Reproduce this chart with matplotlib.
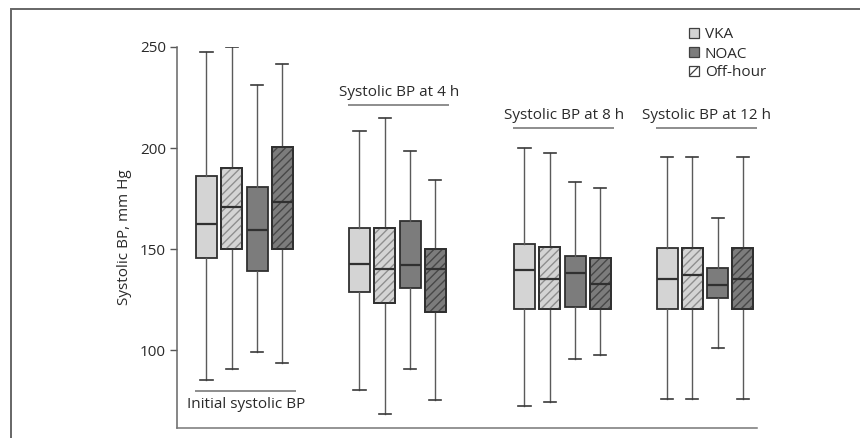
import matplotlib
matplotlib.use("Agg")
import matplotlib.pyplot as plt
from matplotlib.patches import Rectangle
from matplotlib.lines import Line2D

plt.rcParams['font.family'] = ['Open Sans', 'DejaVu Sans']
plt.rcParams['hatch.linewidth'] = 1.0

# Time points and series
groups = ["Initial systolic BP", "Systolic BP at 4 h", "Systolic BP at 8 h", "Systolic BP at 12 h"]
series = ["VKA", "VKA off-hour", "NOAC", "NOAC off-hour"]
legend_labels = ["VKA", "NOAC", "Off-hour"]

# Five-number summaries per group, one list per series: whislo, q1, median, q3, whishi
vka_stats = [
    [85, 145.5, 162.5, 186.3, 247.4],
    [80.2, 128.7, 142.4, 160.6, 208.5],
    [72.3, 120.5, 139.5, 152.5, 200.2],
    [75.7, 120.1, 135.3, 150.3, 195.4],
]
vka_off_stats = [
    [90.4, 150.0, 170.6, 190.3, 250.0],
    [68.3, 123.1, 140.3, 160.6, 215.0],
    [74.3, 120.5, 135.3, 151.2, 197.4],
    [75.7, 120.1, 137.1, 150.3, 195.4],
]
noac_stats = [
    [98.9, 139.3, 159.6, 180.5, 231.2],
    [90.4, 130.5, 142.1, 163.9, 198.4],
    [95.5, 121.1, 138.0, 146.5, 183.3],
    [101.0, 125.7, 132.4, 140.8, 165.2],
]
noac_off_stats = [
    [93.4, 150.0, 173.3, 200.3, 241.4],
    [75.2, 118.7, 140.3, 149.9, 184.3],
    [97.4, 120.1, 132.5, 145.4, 180.0],
    [75.7, 120.1, 135.3, 150.3, 195.4],
]

yticks = [100, 150, 200, 250]

# Styling
light = "#d4d4d4"
dark = "#7c7c7c"
edge = "#303030"
text_color = "#2a2a2a"
fs = 11
series_style = [
    dict(face=light, hatch=None, hcolor=None),
    dict(face=light, hatch="////", hcolor="#8e8e8e"),
    dict(face=dark, hatch=None, hcolor=None),
    dict(face=dark, hatch="////", hcolor="#474747"),
]
group_starts = [1.166, 7.213, 13.735, 19.368]
box_width = 0.83

fig = plt.figure(figsize=(8.6, 4.38), dpi=100)
ax = fig.add_axes([177 / 860, 1 - 428 / 438, 580 / 860, 381 / 438])

all_stats = [vka_stats, vka_off_stats, noac_stats, noac_off_stats]
for s_idx, stats_list in enumerate(all_stats):
    st = series_style[s_idx]
    bstats = []
    positions = []
    for g_idx, vals in enumerate(stats_list):
        lo, q1, med, q3, hi = vals
        bstats.append(dict(whislo=lo, q1=q1, med=med, q3=q3, whishi=hi, fliers=[]))
        positions.append(group_starts[g_idx] + s_idx)
    ax.bxp(bstats, positions=positions, widths=box_width, patch_artist=True,
           showfliers=False, capwidths=0.48,
           boxprops=dict(facecolor=st["face"], edgecolor=edge, linewidth=1.3),
           medianprops=dict(color=edge, linewidth=1.6, zorder=5),
           whiskerprops=dict(color="#5a5a5a", linewidth=1.0),
           capprops=dict(color="#3a3a3a", linewidth=1.2))
    if st["hatch"]:
        for pos, b in zip(positions, bstats):
            ax.add_patch(Rectangle((pos - box_width / 2, b["q1"]), box_width, b["q3"] - b["q1"],
                                   facecolor="none", edgecolor=st["hcolor"], hatch=st["hatch"],
                                   linewidth=0, zorder=3))
            ax.add_patch(Rectangle((pos - box_width / 2, b["q1"]), box_width, b["q3"] - b["q1"],
                                   facecolor="none", edgecolor=edge, linewidth=1.3, zorder=4))

# Group captions with rules
caption_rule = [79.7, 221.3, 210.0, 210.0]
for g_idx, name in enumerate(groups):
    x0 = group_starts[g_idx] - 0.44
    x1 = group_starts[g_idx] + 3.55
    yr = caption_rule[g_idx]
    ax.plot([x0, x1], [yr, yr], color="#7a7a7a", linewidth=1.2, solid_capstyle="butt")
    xc = (x0 + x1) / 2
    if g_idx == 0:
        ax.text(xc, yr - 8.6, name, ha="center", va="baseline", fontsize=fs, color=text_color)
    else:
        ax.text(xc, yr + 4.6, name, ha="center", va="baseline", fontsize=fs, color=text_color)

ax.set_xlim(0, 580 / 25.3)
ax.set_ylim(61.4, 250)
ax.set_xticks([])
ax.set_yticks(yticks)
ax.set_yticklabels([str(v) for v in yticks])
ax.tick_params(axis="y", direction="out", length=5, width=1, color="#555555",
               labelsize=fs, labelcolor=text_color, pad=3)
for side in ("top", "right"):
    ax.spines[side].set_visible(False)
ax.spines["left"].set_color("#666666")
ax.spines["bottom"].set_color("#777777")
ax.spines["left"].set_linewidth(1.1)
ax.spines["bottom"].set_linewidth(1.1)
ax.patch.set_alpha(0)

ax.set_ylabel("Systolic BP, mm Hg", fontsize=fs, color=text_color, labelpad=6)

# Legend keys drawn as small squares in figure pixels
W, H = 860, 438
sq = 10
key_x = 689
row_y = [33, 52, 71]
key_faces = [light, dark, "white"]
for lbl, yc, face in zip(legend_labels, row_y, key_faces):
    fig.patches.append(Rectangle((key_x / W, 1 - (yc + sq / 2) / H), sq / W, sq / H,
                                 transform=fig.transFigure, facecolor=face,
                                 edgecolor="#404040", linewidth=0.9))
    fig.text((key_x + sq + 6) / W, 1 - yc / H, lbl, ha="left", va="center_baseline",
             fontsize=fs, color=text_color)
# diagonal stroke of the off-hour key
yc = row_y[2]
fig.lines.append(Line2D([(key_x + 1) / W, (key_x + sq - 1) / W],
                        [1 - (yc + sq / 2 - 1) / H, 1 - (yc - sq / 2 + 1) / H],
                        transform=fig.transFigure, color="#404040", linewidth=0.9))

# Outer frame
fig.patches.append(Rectangle((11 / W, -0.1), 1.2, 1 - 9 / H + 0.1,
                             transform=fig.transFigure, facecolor="none",
                             edgecolor="#666666", linewidth=1.4))

fig.savefig("out.png", dpi=100)
